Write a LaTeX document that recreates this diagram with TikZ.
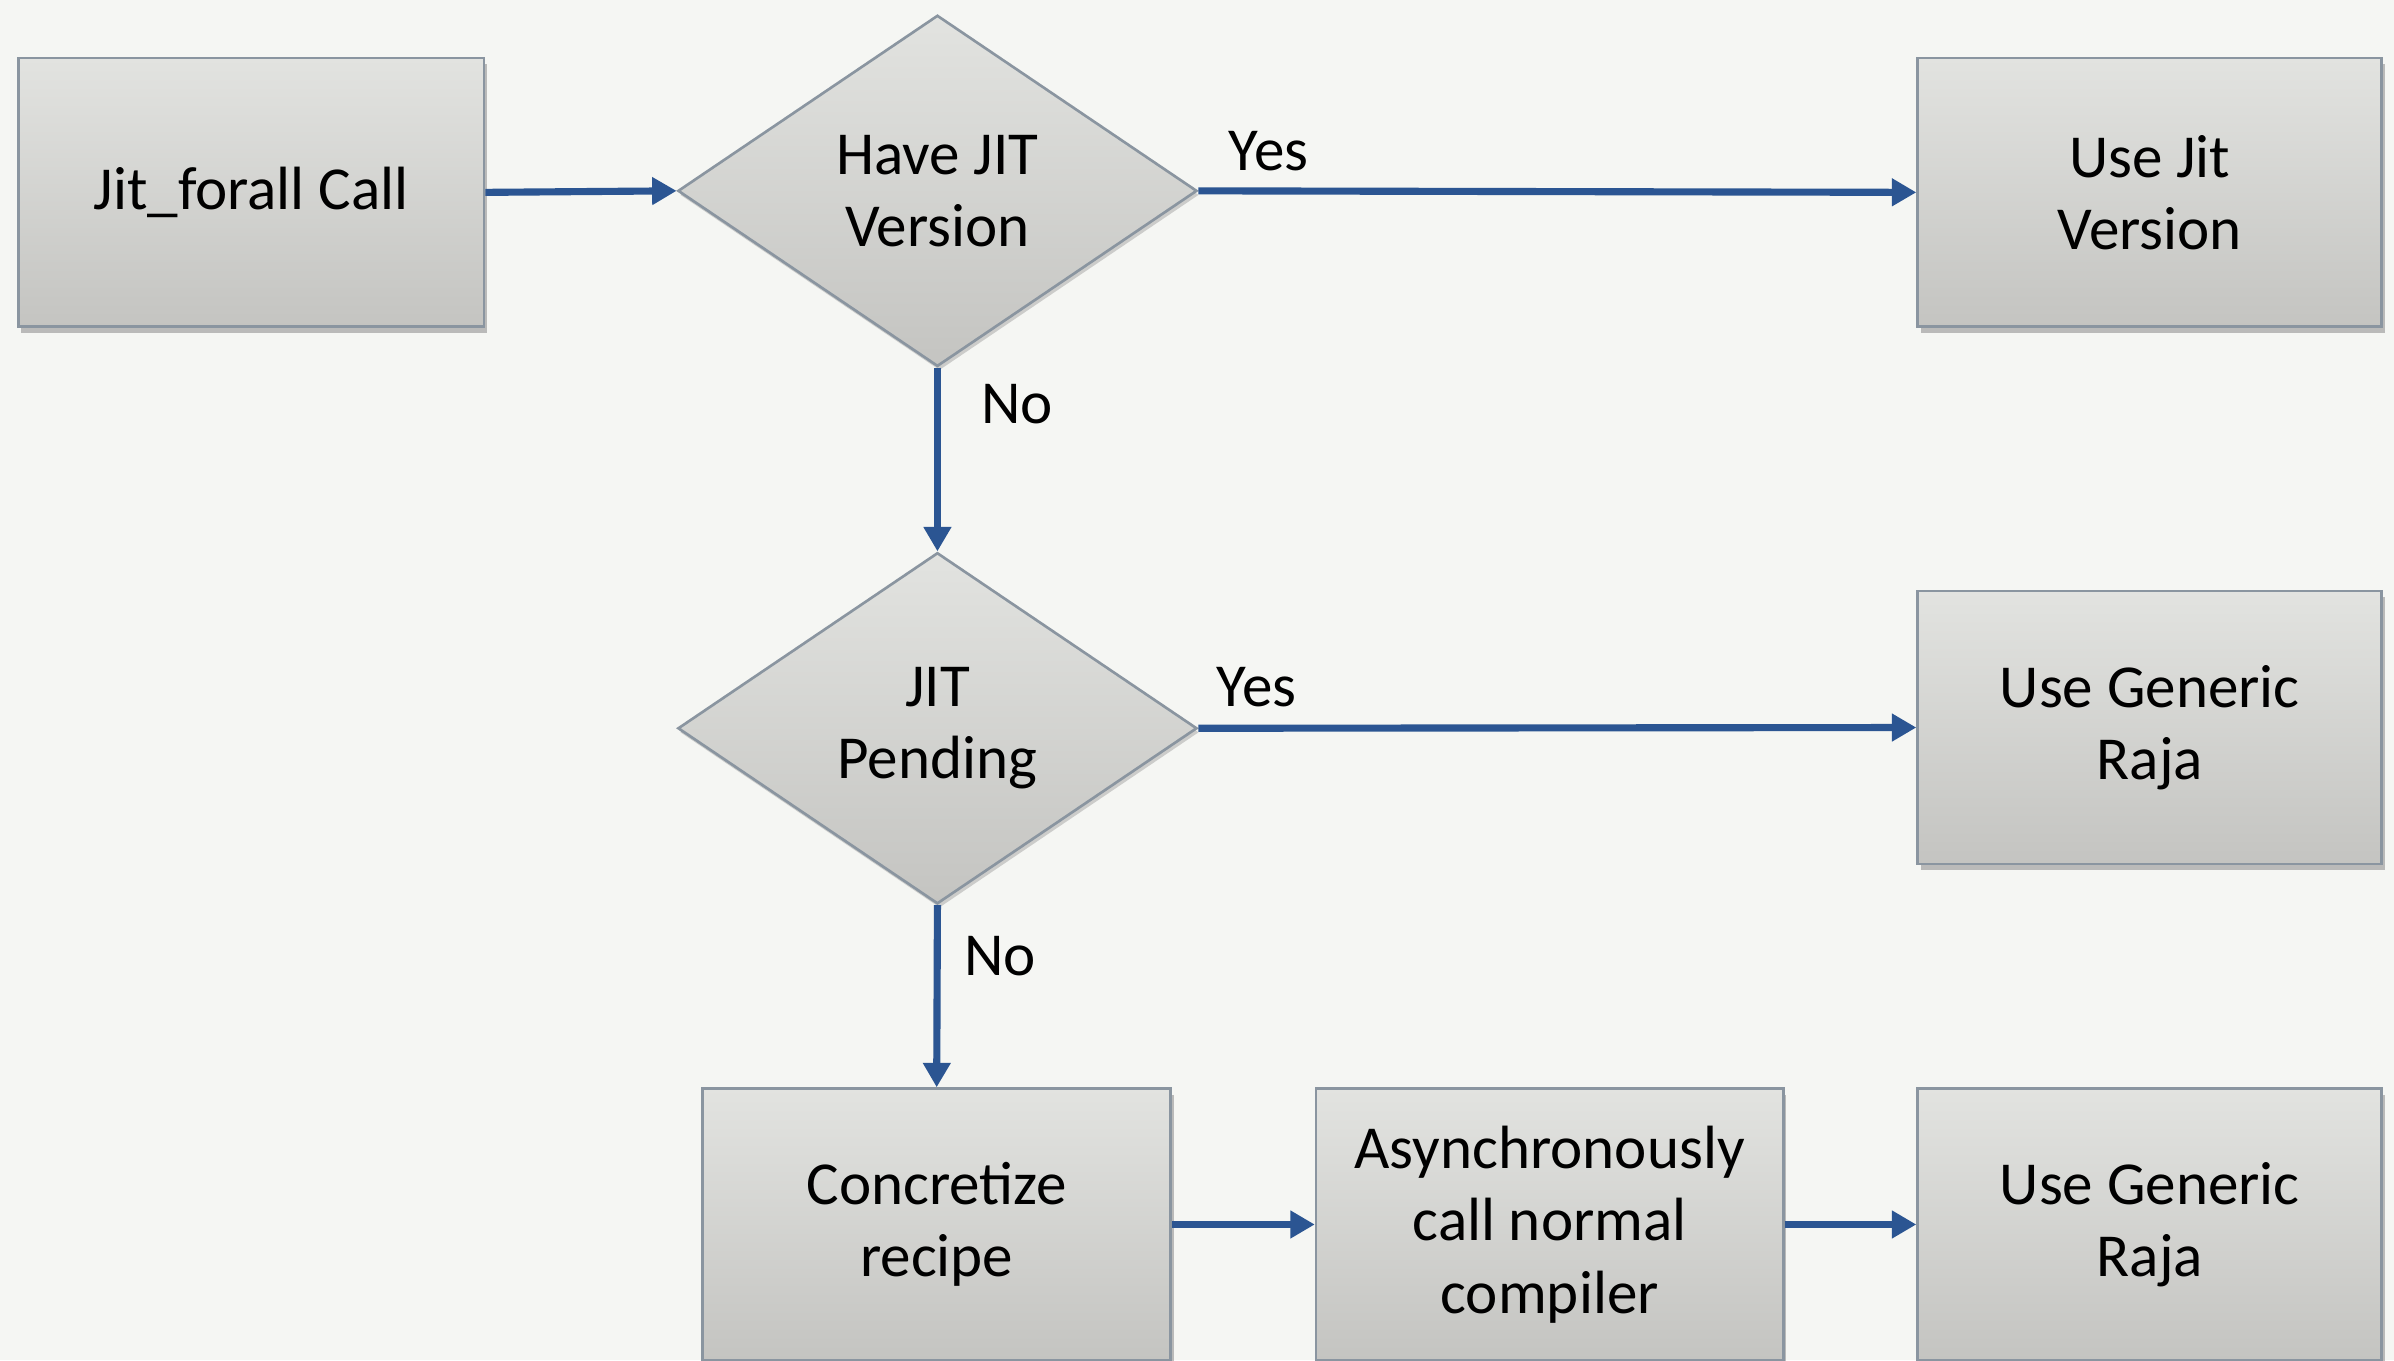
\documentclass[tikz,border=0pt]{standalone}
\usepackage{fontspec}
\setmainfont{Carlito}
\usetikzlibrary{shapes.geometric,arrows.meta,shadows}
\definecolor{bgc}{HTML}{F5F6F3}
\definecolor{arr}{HTML}{2B5592}
\definecolor{edge}{HTML}{8A95A0}
\definecolor{ftop}{HTML}{E2E3E0}
\definecolor{fbot}{HTML}{C4C4C1}
\tikzset{
  box/.style={rectangle, draw=edge, line width=1.3pt, top color=ftop, bottom color=fbot,
    drop shadow={opacity=0.5, shadow xshift=1.5pt, shadow yshift=-3pt},
    align=center, inner sep=0pt, font=\fontsize{30}{35.5}\selectfont},
  dec/.style={diamond, draw=edge, line width=1.3pt, top color=ftop, bottom color=fbot,
    drop shadow={opacity=0.35, shadow xshift=1pt, shadow yshift=-2pt},
    align=center, inner sep=0pt, minimum width=255pt, minimum height=172.5pt,
    font=\fontsize{30}{35.5}\selectfont},
  lbl/.style={inner sep=0pt, font=\fontsize{30}{35.5}\selectfont},
  flow/.style={draw=arr, line width=3.5pt, -{Triangle[length=12pt,width=13pt]}},
}
\begin{document}
\begin{tikzpicture}[x=0.75pt,y=-0.75pt]
\clip (0,0) rectangle (1568,891);
\fill[bgc] (0,0) rectangle (1568,891);
\node[box, minimum width=228.75pt, minimum height=132pt] (call) at (164.5,126) {Jit\_forall Call};
\node[dec] (have) at (614,125) {Have JIT\\Version};
\node[box, minimum width=228pt, minimum height=132pt] (usejit) at (1408,126) {Use Jit\\Version};
\node[dec] (pend) at (614,477) {JIT\\Pending};
\node[box, minimum width=228pt, minimum height=134pt] (gen1) at (1408,476.5) {Use Generic\\Raja};
\node[box, minimum width=230pt, minimum height=133.5pt] (conc) at (613.5,802) {Concretize\\recipe};
\node[box, minimum width=229.5pt, minimum height=133.5pt] (async) at (1015,802) {Asynchronously\\call normal\\compiler};
\node[box, minimum width=228pt, minimum height=133.5pt] (gen2) at (1408,802) {Use Generic\\Raja};
\node[lbl] (yes1) at (831,99) {Yes};
\node[lbl] (no1) at (666,265) {No};
\node[lbl] (yes2) at (823,450) {Yes};
\node[lbl] (no2) at (655,626) {No};
\draw[flow] (call.east) -- (have.west);
\draw[flow] (have.east) -- (usejit.west);
\draw[flow] (have.south) -- (pend.north);
\draw[flow] (pend.east) -- (gen1.west);
\draw[flow] (pend.south) -- (conc.north);
\draw[flow] (conc.east) -- (async.west);
\draw[flow] (async.east) -- (gen2.west);
\end{tikzpicture}
\end{document}
